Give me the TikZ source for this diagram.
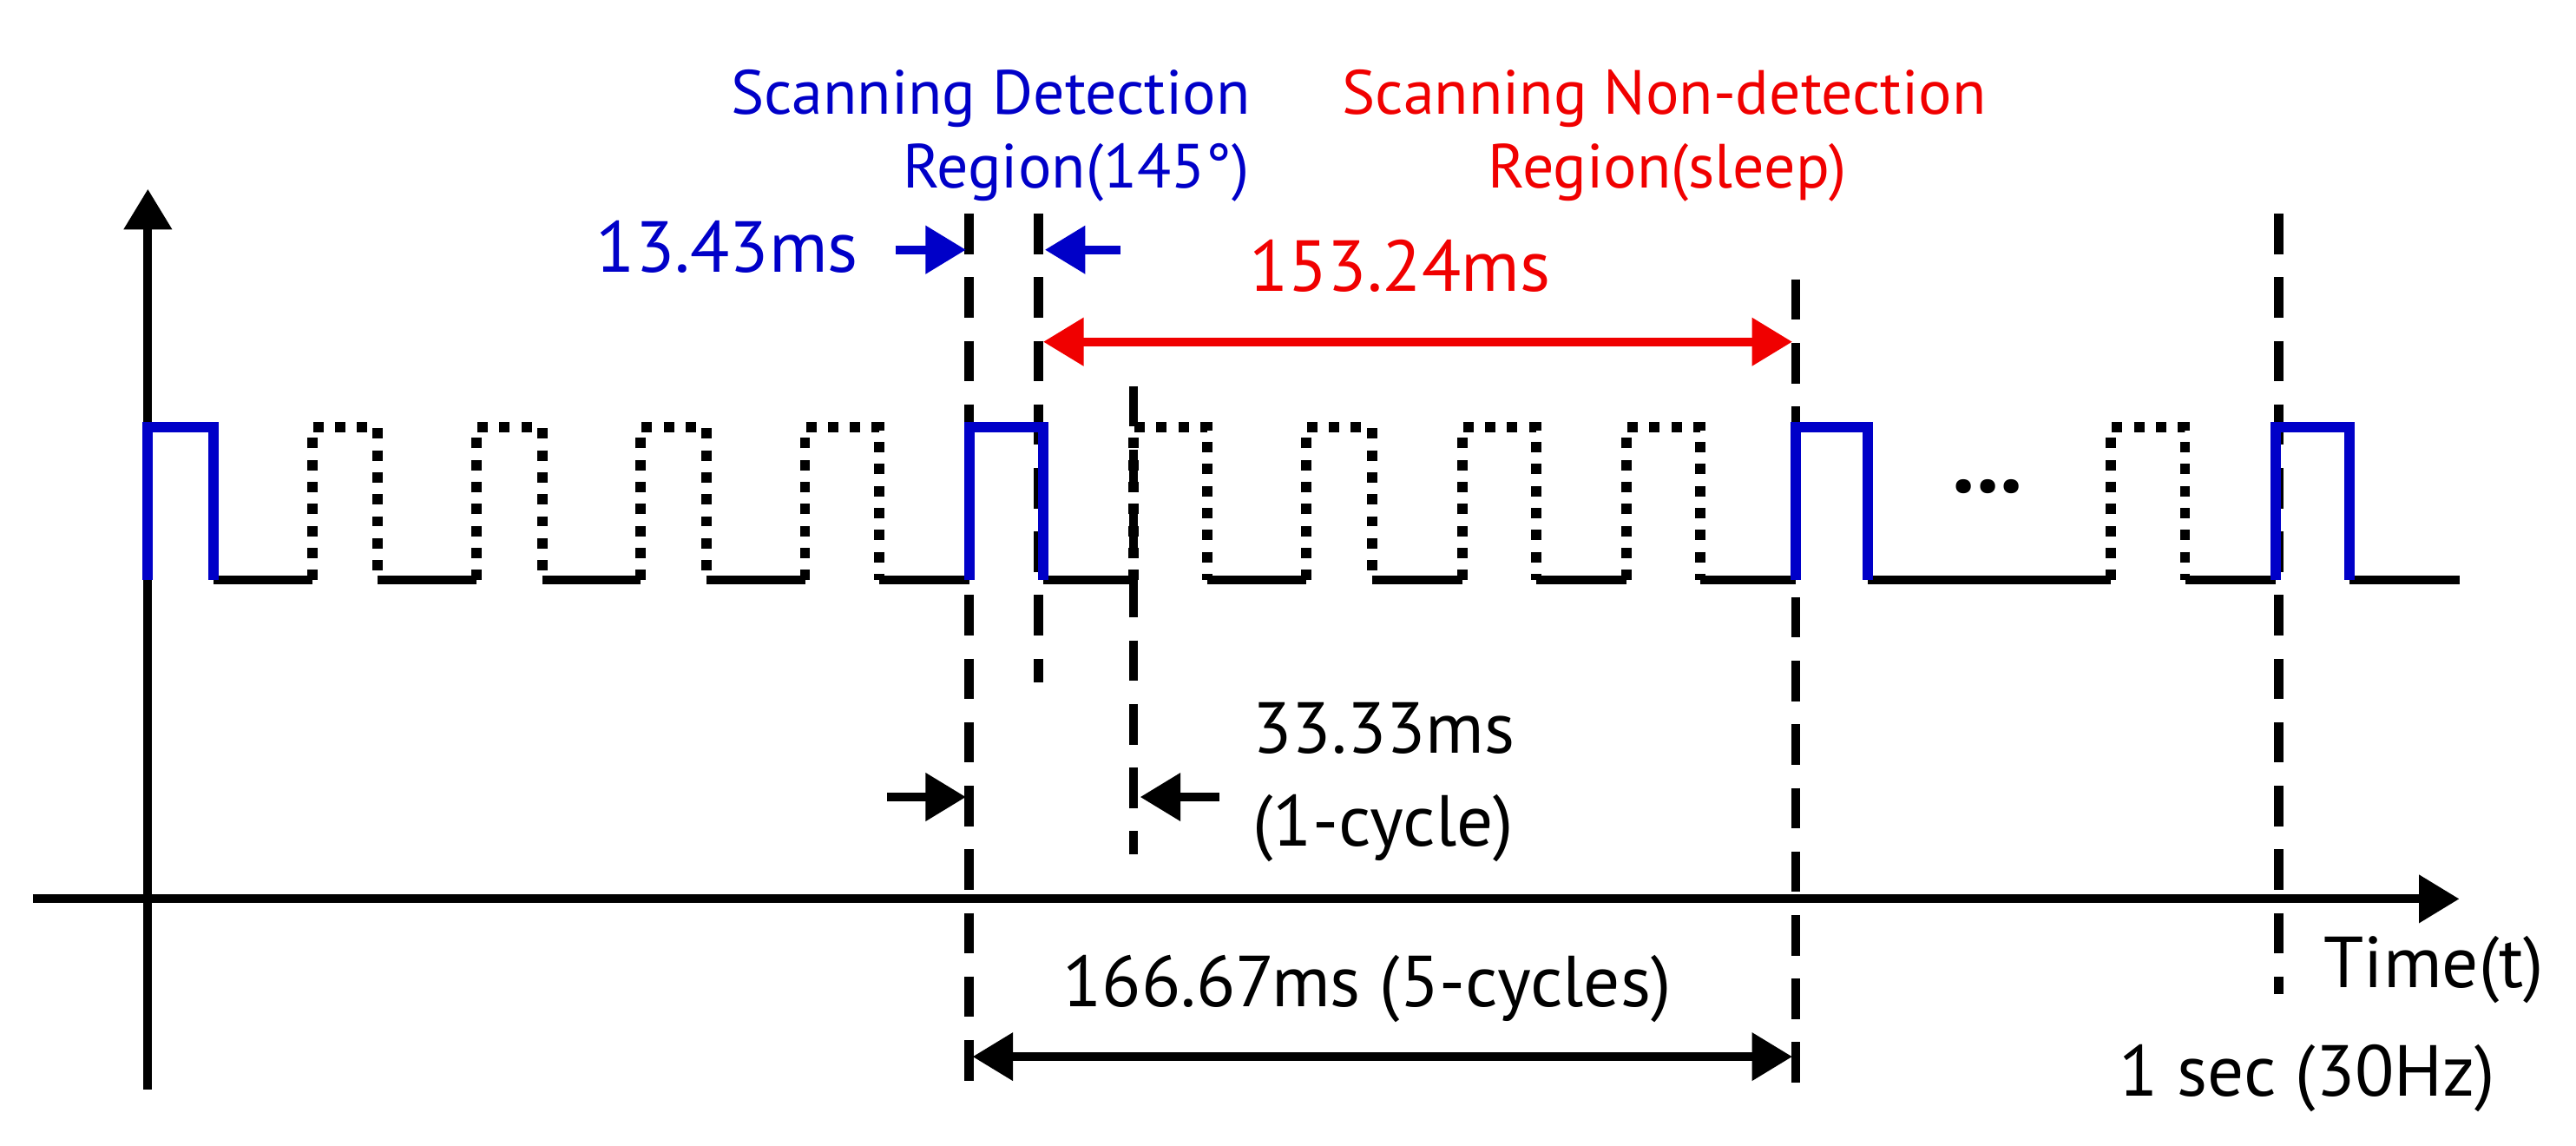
\documentclass[tikz,border=0pt]{standalone}
\usepackage{fontspec}
\setmainfont{PT Sans}
\usetikzlibrary{arrows.meta}
\definecolor{sblue}{RGB}{0,0,200}
\definecolor{sred}{RGB}{240,0,0}
\begin{document}
\begin{tikzpicture}[x=0.01cm,y=-0.01cm,line width=1.5pt,
  sig/.style={black},
  bp/.style={sblue},
  dp/.style={black,dotted,line width=1.8pt},
  vd/.style={black,dashed,dash pattern=on 7pt off 4pt,line width=1.6pt},
  arr/.style={-{Triangle[length=7pt,width=8pt]}},
  darr/.style={{Triangle[length=7pt,width=8pt]}-{Triangle[length=7pt,width=8pt]}},
  lbl/.style={font=\fontsize{12.5}{14}\selectfont,inner sep=0pt},
  ttl/.style={font=\fontsize{10.8}{12}\selectfont,inner sep=0pt}]
\useasboundingbox (0,0) rectangle (1568,697);
% axes
\coordinate (yb) at (90,663); \coordinate (yt) at (90,115);
\draw[arr] (yb) -- (yt);
\coordinate (xl) at (20,547); \coordinate (xr) at (1497,547);
\draw[arr] (xl) -- (xr);
% dashed verticals
\coordinate (v1t) at (590,130); \coordinate (v1b) at (590,665);
\coordinate (v2t) at (632,130); \coordinate (v2b) at (632,415);
\coordinate (v3t) at (690,235); \coordinate (v3b) at (690,520);
\coordinate (v4t) at (1093,170); \coordinate (v4b) at (1093,665);
\coordinate (v5t) at (1387,130); \coordinate (v5b) at (1387,605);
\foreach \v in {1,...,5} \draw[vd] (v\v t) -- (v\v b);
% baseline
\foreach \a/\b in {130/190,230/290,330/390,430/490,535/590,635/690,735/795,835/890,935/990,1035/1093,1137/1285,1330/1385,1430/1497}
  \draw[sig] (\a,353) -- (\b,353);
% dotted pulses
\foreach \a/\b in {190/230,290/330,390/430,490/535,690/735,795/835,890/935,990/1035,1285/1330}
  \draw[dp] (\a,353) -- (\a,260) -- (\b,260) -- (\b,353);
% blue pulses
\foreach \a/\b in {90/130,590/635,1093/1137,1385/1430}
  \draw[bp,line width=1.8pt] (\a,353) -- (\a,260) -- (\b,260) -- (\b,353);
\node[lbl,font=\fontsize{16}{16}\selectfont\bfseries] (dots) at (1210,296) {...};
% blue arrows
\coordinate (ba1) at (545,152); \coordinate (ba2) at (588,152);
\coordinate (ba3) at (682,152); \coordinate (ba4) at (636,152);
\draw[bp,arr] (ba1) -- (ba2);
\draw[bp,arr] (ba3) -- (ba4);
\node[lbl,sblue,anchor=east] (t1343) at (525,150) {13.43ms};
% red arrow
\coordinate (r1) at (635,208); \coordinate (r2) at (1091,208);
\draw[sred,darr] (r1) -- (r2);
\node[lbl,sred] (t15324) at (852,162) {153.24ms};
% black arrows
\coordinate (k1) at (540,485); \coordinate (k2) at (588,485);
\coordinate (k3) at (742,485); \coordinate (k4) at (694,485);
\draw[arr] (k1) -- (k2);
\draw[arr] (k3) -- (k4);
\node[lbl,anchor=west,align=left] (t3333) at (760,476) {33.33ms\\[2pt](1-cycle)};
% bottom double arrow
\coordinate (d1) at (592,643); \coordinate (d2) at (1091,643);
\draw[darr] (d1) -- (d2);
\node[lbl] (t16667) at (832,602) {166.67ms (5-cycles)};
\node[lbl,anchor=west] (time) at (1412,590) {Time(t)};
\node[lbl,anchor=west] (sec) at (1287,656) {1 sec (30Hz)};
% titles
\node[ttl,sblue] (sd1) at (603,60) {Scanning Detection};
\node[ttl,sblue] (sd2) at (655,105) {Region(145°)};
\node[ttl,sred] (sn1) at (1013,60) {Scanning Non-detection};
\node[ttl,sred] (sn2) at (1015,105) {Region(sleep)};
\end{tikzpicture}
\end{document}
